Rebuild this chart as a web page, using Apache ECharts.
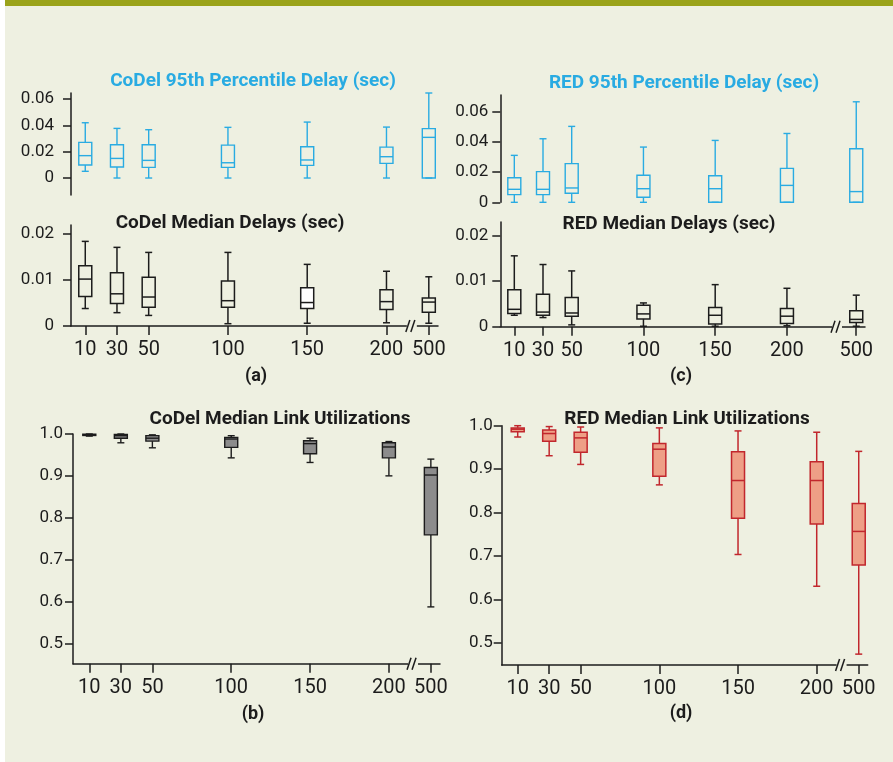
<!DOCTYPE html>
<html>
<head>
<meta charset="utf-8">
<title>CoDel vs RED</title>
<script src="https://cdn.jsdelivr.net/npm/echarts@6/dist/echarts.min.js"></script>
<style>
  html, body { margin: 0; padding: 0; background: #fff; }
  #bg { position: absolute; left: 5px; top: 0; width: 888px; height: 762px; background: #eef0e1; }
  #band { position: absolute; left: 5px; top: 0; width: 888px; height: 6px; background: #9aa31a; }
  #main { position: absolute; left: 0; top: 0; width: 893px; height: 762px; }
</style>
</head>
<body>
<div id="bg"></div>
<div id="band"></div>
<div id="main"></div>
<script>
// buffer sizes along the x axis
var sizes = ['10', '30', '50', '100', '150', '200', '500'];

// each box: [min, Q1, median, Q3, max]
var codel95 = [
  [0.0051, 0.0099, 0.0170, 0.0271, 0.0420],
  [0, 0.0084, 0.0149, 0.0253, 0.0377],
  [0, 0.0081, 0.0134, 0.0253, 0.0367],
  [0, 0.0081, 0.0116, 0.0250, 0.0385],
  [0, 0.0096, 0.0137, 0.0238, 0.0425],
  [0, 0.0111, 0.0162, 0.0235, 0.0387],
  [0, 0, 0.0309, 0.0375, 0.0646]
];
var red95 = [
  [0, 0.0051, 0.0086, 0.0163, 0.0311],
  [0, 0.0051, 0.0086, 0.0203, 0.0421],
  [0, 0.0060, 0.0095, 0.0256, 0.0503],
  [0, 0.0033, 0.0090, 0.0179, 0.0366],
  [0, 0, 0.0090, 0.0176, 0.0410],
  [0, 0, 0.0112, 0.0225, 0.0456],
  [0, 0, 0.0071, 0.0355, 0.0666]
];
var codelMedian = [
  [0.0038, 0.0064, 0.0102, 0.0131, 0.0184],
  [0.0029, 0.0049, 0.0070, 0.0116, 0.0171],
  [0.0023, 0.0041, 0.0063, 0.0106, 0.0160],
  [0.0005, 0.0041, 0.0055, 0.0098, 0.0160],
  [0.0006, 0.0038, 0.0051, 0.0083, 0.0134],
  [0.0007, 0.0036, 0.0053, 0.0079, 0.0119],
  [0.0006, 0.0030, 0.0052, 0.0061, 0.0107]
];
var redMedian = [
  [0.0025, 0.0029, 0.0038, 0.0081, 0.0155],
  [0.0020, 0.0025, 0.0032, 0.0071, 0.0136],
  [0.0004, 0.0023, 0.0030, 0.0064, 0.0122],
  [0.0001, 0.0017, 0.0028, 0.0047, 0.0052],
  [0.0001, 0.0006, 0.0025, 0.0042, 0.0092],
  [0.0002, 0.0007, 0.0023, 0.0040, 0.0084],
  [0.0001, 0.0009, 0.0016, 0.0035, 0.0069]
];
var codelUtil = [
  [0.995, 0.9965, 0.998, 0.9995, 1.0],
  [0.979, 0.990, 0.996, 0.999, 1.0],
  [0.967, 0.983, 0.990, 0.996, 0.998],
  [0.943, 0.968, 0.988, 0.992, 0.996],
  [0.932, 0.953, 0.977, 0.984, 0.990],
  [0.900, 0.943, 0.969, 0.979, 0.982],
  [0.587, 0.759, 0.902, 0.920, 0.940]
];
var redUtil = [
  [0.974, 0.986, 0.992, 0.995, 1.0],
  [0.931, 0.964, 0.982, 0.990, 0.998],
  [0.911, 0.939, 0.972, 0.985, 0.997],
  [0.864, 0.884, 0.946, 0.959, 0.995],
  [0.704, 0.787, 0.874, 0.940, 0.988],
  [0.631, 0.774, 0.874, 0.917, 0.985],
  [0.475, 0.680, 0.757, 0.821, 0.941]
];

var pctTicks = [0, 0.02, 0.04, 0.06];
var medTicks = [0, 0.01, 0.02];
var utilTicks = [0.5, 0.6, 0.7, 0.8, 0.9, 1.0];

var ink = '#1c1c1c';
var bgColor = '#eef0e1';
var font = 'Roboto, "Noto Sans", sans-serif';

// brk = where "500" sits after the axis break, cut = where the // mark goes
var panels = [
  { data: codel95, grid: { left: 71, top: 93, width: 367, height: 102 }, x: [1, 232.5], y: [-0.0129, 0.0646],
    brk: 226.7, showX: false, yTicks: pctTicks, digits: 2, margin: 17, stroke: '#29abe2', fill: null, lw: 1.4 },
  { data: red95, grid: { left: 500.3, top: 95, width: 364.7, height: 107.3 }, x: [0.24, 254.4], y: [0, 0.0711],
    brk: 248.3, showX: false, yTicks: pctTicks, digits: 2, margin: 12, stroke: '#29abe2', fill: null, lw: 1.4 },
  { data: codelMedian, grid: { left: 71, top: 225, width: 367, height: 101 }, x: [1, 232.5], y: [0, 0.02196],
    brk: 226.7, cut: 216, showX: true, yTicks: medTicks, digits: 2, margin: 17, stroke: ink, fill: null, lw: 1.5,
    fills: [null, null, null, null, '#ffffff', null, null] },
  { data: redMedian, grid: { left: 500.3, top: 222, width: 364.7, height: 104.7 }, x: [0.24, 254.4], y: [0, 0.0229],
    brk: 248.3, cut: 234.9, showX: true, yTicks: medTicks, digits: 2, margin: 12, stroke: ink, fill: null, lw: 1.5 },
  { data: codelUtil, grid: { left: 73, top: 434, width: 367, height: 229.7 }, x: [-0.34, 232.4], y: [0.4513, 1.0],
    brk: 226.6, cut: 215.3, showX: true, yTicks: utilTicks, digits: 1, margin: 10, stroke: ink, fill: '#8c8c8c', lw: 1.4 },
  { data: redUtil, grid: { left: 501.7, top: 425.7, width: 366, height: 239.3 }, x: [-0.17, 232.4], y: [0.45, 1.0],
    brk: 226.7, cut: 215.8, showX: true, yTicks: utilTicks, digits: 1, margin: 9, stroke: '#c1272d', fill: '#ee9f86', lw: 1.5 }
];

function xPositions(p) {
  return sizes.map(function (s) { return s === '500' ? p.brk : Number(s); });
}

function boxRenderer(p) {
  return function (params, api) {
    var x = api.value(0);
    var lo = api.coord([x, api.value(1)]);
    var q1 = api.coord([x, api.value(2)]);
    var md = api.coord([x, api.value(3)]);
    var q3 = api.coord([x, api.value(4)]);
    var hi = api.coord([x, api.value(5)]);
    var cx = lo[0], hb = 6.5, hc = 3.5;
    var fill = (p.fills && p.fills[params.dataIndex]) || p.fill;
    function ln(x1, y1, x2, y2) {
      return { type: 'line', shape: { x1: x1, y1: y1, x2: x2, y2: y2 },
        style: { stroke: p.stroke, lineWidth: p.lw, fill: null } };
    }
    return {
      type: 'group',
      children: [
        ln(cx, hi[1], cx, q3[1]),
        ln(cx, q1[1], cx, lo[1]),
        ln(cx - hc, hi[1], cx + hc, hi[1]),
        ln(cx - hc, lo[1], cx + hc, lo[1]),
        { type: 'rect', shape: { x: cx - hb, y: q3[1], width: hb * 2, height: q1[1] - q3[1] },
          style: { fill: fill, stroke: p.stroke, lineWidth: p.lw } },
        ln(cx - hb, md[1], cx + hb, md[1])
      ]
    };
  };
}

// the little "//" on the x axis
function breakRenderer(params, api) {
  var c = api.coord([api.value(0), api.value(1)]);
  var st = { stroke: ink, lineWidth: 1.5, fill: null };
  return {
    type: 'group',
    children: [
      { type: 'rect', shape: { x: c[0] - 5, y: c[1] - 2, width: 10, height: 4 }, style: { fill: bgColor } },
      { type: 'line', shape: { x1: c[0] - 6, y1: c[1] + 6, x2: c[0] - 2, y2: c[1] - 6 }, style: st },
      { type: 'line', shape: { x1: c[0] - 1, y1: c[1] + 6, x2: c[0] + 3, y2: c[1] - 6 }, style: st }
    ]
  };
}

var grids = [], xAxes = [], yAxes = [], series = [];
panels.forEach(function (p, i) {
  var xs = xPositions(p);
  grids.push(p.grid);
  xAxes.push({
    gridIndex: i, type: 'value', min: p.x[0], max: p.x[1], show: p.showX,
    splitLine: { show: false },
    axisLine: { show: true, onZero: false, lineStyle: { color: ink, width: 1.5 } },
    axisTick: { show: true, inside: false, length: 9, customValues: xs, lineStyle: { color: ink, width: 1.5 } },
    axisLabel: {
      customValues: xs, margin: 14, fontSize: 20, color: ink, fontFamily: font,
      formatter: function (v) {
        var best = 0;
        xs.forEach(function (q, k) { if (Math.abs(q - v) < Math.abs(xs[best] - v)) best = k; });
        return sizes[best];
      }
    }
  });
  yAxes.push({
    gridIndex: i, type: 'value', min: p.y[0], max: p.y[1],
    splitLine: { show: false },
    axisLine: { show: true, onZero: false, lineStyle: { color: ink, width: 1.5 } },
    axisTick: { show: true, inside: false, length: 8, customValues: p.yTicks, lineStyle: { color: ink, width: 1.5 } },
    axisLabel: {
      customValues: p.yTicks, margin: p.margin, fontSize: 17, color: ink, fontFamily: font,
      formatter: function (v) { return v === 0 ? '0' : v.toFixed(p.digits); }
    }
  });
  series.push({
    type: 'custom', xAxisIndex: i, yAxisIndex: i, clip: false, z: 3,
    renderItem: boxRenderer(p),
    encode: { x: 0, y: [1, 2, 3, 4, 5] },
    data: p.data.map(function (v, k) { return [xs[k]].concat(v); })
  });
  if (p.cut) {
    series.push({
      type: 'custom', xAxisIndex: i, yAxisIndex: i, clip: false, z: 4, silent: true,
      renderItem: breakRenderer,
      data: [[p.cut, p.y[0]]]
    });
  }
});

var labels = [
  ['CoDel 95th Percentile Delay (sec)', 253, 81, '#29abe2', 19],
  ['RED 95th Percentile Delay (sec)', 684, 83, '#29abe2', 19],
  ['CoDel Median Delays (sec)', 230, 223, ink, 19],
  ['RED Median Delays (sec)', 669, 224, ink, 19],
  ['CoDel Median Link Utilizations', 280, 419, ink, 19],
  ['RED Median Link Utilizations', 687, 419, ink, 19],
  ['(a)', 256, 376, ink, 18],
  ['(c)', 681, 376, ink, 18],
  ['(b)', 253, 714, ink, 18],
  ['(d)', 681, 713, ink, 18]
];

var myChart = echarts.init(document.getElementById('main'));
var option = {
  backgroundColor: 'transparent',
  animation: false,
  grid: grids,
  xAxis: xAxes,
  yAxis: yAxes,
  series: series,
  graphic: labels.map(function (t) {
    return {
      type: 'text', x: t[1], y: t[2], silent: true,
      style: { text: t[0], fill: t[3], font: 'bold ' + t[4] + 'px ' + font,
        textAlign: 'center', textVerticalAlign: 'middle', align: 'center', verticalAlign: 'middle' }
    };
  })
};
myChart.setOption(option);
</script>
</body>
</html>
